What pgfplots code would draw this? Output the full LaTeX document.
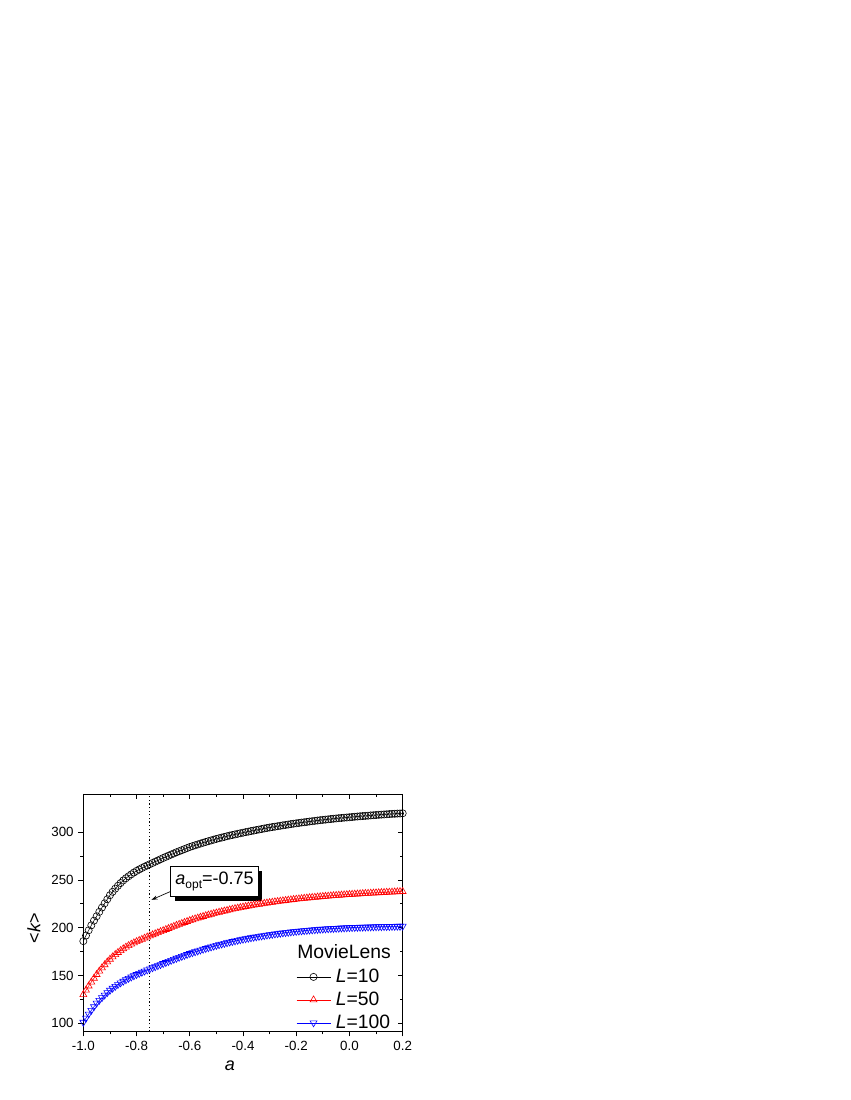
\documentclass[border=0pt]{standalone}
\usepackage{fontspec}
\setmainfont{Liberation Sans}
\usepackage{pgfplots}
\usepackage{pgfplotstable}
\pgfplotsset{compat=1.18}
\usetikzlibrary{arrows.meta,shadows}

\pgfplotstableread{
a k10 k50 k100
-1.00 186 130 101
-0.99 191.8 134.6 105.4
-0.98 197.3 139 109.6
-0.97 202.5 143.1 113.5
-0.96 207.4 147.1 117.3
-0.95 212 151 121
-0.94 216.6 154.6 124
-0.93 221.1 158 126.8
-0.92 225.5 161.2 129.5
-0.91 229.8 164.2 132.1
-0.90 234 167 134.5
-0.89 237.6 169.5 136.6
-0.88 240.9 171.9 138.6
-0.87 243.9 174.1 140.5
-0.86 246.8 176.1 142.3
-0.85 249.5 178 144
-0.84 251.8 179.7 145.5
-0.83 253.9 181.3 147
-0.82 255.9 182.8 148.4
-0.81 257.8 184.2 149.7
-0.80 259.5 185.5 151
-0.79 261 186.7 152.2
-0.78 262.5 187.9 153.4
-0.77 263.9 189.1 154.6
-0.76 265.2 190.3 155.8
-0.75 266.5 191.5 157
-0.74 267.8 192.6 158.1
-0.73 269.1 193.7 159.2
-0.72 270.4 194.8 160.3
-0.71 271.7 195.9 161.4
-0.70 273 197 162.5
-0.69 274.2 198.1 163.6
-0.68 275.4 199.2 164.7
-0.67 276.6 200.3 165.8
-0.66 277.8 201.4 166.9
-0.65 279 202.5 168
-0.64 280.1 203.5 169
-0.63 281.2 204.5 170
-0.62 282.3 205.5 171
-0.61 283.4 206.5 172
-0.60 284.5 207.5 173
-0.59 285.4 208.4 173.9
-0.58 286.3 209.3 174.8
-0.57 287.2 210.1 175.7
-0.56 288.1 211 176.6
-0.55 289 211.8 177.5
-0.54 289.8 212.6 178.3
-0.53 290.6 213.3 179.1
-0.52 291.4 214.1 179.9
-0.51 292.2 214.8 180.7
-0.50 293 215.5 181.5
-0.49 293.7 216.2 182.2
-0.48 294.4 216.8 182.9
-0.47 295.1 217.5 183.6
-0.46 295.8 218.1 184.3
-0.45 296.5 218.8 185
-0.44 297.1 219.4 185.6
-0.43 297.7 220 186.2
-0.42 298.3 220.5 186.8
-0.41 298.9 221.1 187.4
-0.40 299.5 221.7 188
-0.39 300.1 222.2 188.5
-0.38 300.6 222.7 189
-0.37 301.2 223.2 189.5
-0.36 301.7 223.7 190
-0.35 302.3 224.2 190.5
-0.34 302.8 224.6 191
-0.33 303.3 225 191.4
-0.32 303.9 225.5 191.8
-0.31 304.4 225.9 192.3
-0.30 304.9 226.3 192.7
-0.29 305.4 226.7 193.1
-0.28 305.8 227.1 193.5
-0.27 306.3 227.4 193.8
-0.26 306.7 227.8 194.2
-0.25 307.2 228.2 194.6
-0.24 307.6 228.5 194.9
-0.23 308 228.9 195.2
-0.22 308.5 229.2 195.6
-0.21 308.9 229.6 195.9
-0.20 309.3 229.9 196.2
-0.19 309.7 230.2 196.5
-0.18 310.1 230.5 196.7
-0.17 310.4 230.8 197
-0.16 310.8 231.1 197.2
-0.15 311.2 231.4 197.5
-0.14 311.5 231.7 197.7
-0.13 311.9 231.9 197.9
-0.12 312.2 232.2 198.2
-0.11 312.6 232.4 198.4
-0.10 312.9 232.7 198.6
-0.09 313.2 232.9 198.8
-0.08 313.5 233.1 198.9
-0.07 313.8 233.4 199.1
-0.06 314.1 233.6 199.2
-0.05 314.4 233.8 199.4
-0.04 314.7 234 199.5
-0.03 314.9 234.2 199.7
-0.02 315.2 234.4 199.8
-0.01 315.4 234.6 200
0.00 315.7 234.8 200.1
0.01 315.9 235 200.2
0.02 316.2 235.2 200.3
0.03 316.4 235.3 200.4
0.04 316.7 235.5 200.5
0.05 316.9 235.7 200.6
0.06 317.1 235.9 200.7
0.07 317.3 236 200.8
0.08 317.6 236.2 200.8
0.09 317.8 236.3 200.9
0.10 318 236.5 201
0.11 318.2 236.6 201.1
0.12 318.4 236.8 201.1
0.13 318.6 236.9 201.2
0.14 318.8 237.1 201.2
0.15 319 237.2 201.3
0.16 319.2 237.3 201.4
0.17 319.3 237.5 201.4
0.18 319.5 237.6 201.5
0.19 319.6 237.8 201.5
0.20 319.8 237.9 201.6
}\datatable

\begin{document}
\begin{tikzpicture}
\path[use as bounding box] (0,0) rectangle (637.5pt,825pt);
\pgfplotsset{
  common/.style={
    at={(62.5pt,51.4pt)}, anchor=south west,
    scale only axis, width=239.5pt, height=178.1pt,
    xmin=-1, xmax=0.2, ymin=91.4, ymax=340,
    xtick={-1,-0.8,-0.6,-0.4,-0.2,0,0.2},
    ytick={100,150,200,250,300},
    minor x tick num=1, minor y tick num=1,
    major tick length=3.75pt, minor tick length=2.25pt,
    axis line style={line width=0.6pt},
    every tick/.style={black, line width=0.6pt},
  }
}
\begin{axis}[common, tick pos=right, tick align=inside,
  xticklabels={}, yticklabels={}]
\end{axis}
\begin{axis}[common, tick pos=left, tick align=outside,
  tick label style={font=\fontsize{10}{12}\selectfont},
  /pgf/number format/assume math mode=true,
  xticklabel style={/pgf/number format/.cd, fixed, fixed zerofill, precision=1},
  yticklabel style={/pgf/number format/.cd, fixed, precision=0},
  xlabel={\textit{a}},
  ylabel={<\textit{k}>},
  every axis x label/.style={at={(axis description cs:0.459,-0.145)}, anchor=center,
    font=\fontsize{13.5}{15}\selectfont},
  every axis y label/.style={at={(axis description cs:-0.155,0.436)}, anchor=center, rotate=90,
    font=\fontsize{13.5}{15}\selectfont},
  legend style={draw=none, fill=none, at={(axis description cs:0.666,0.268)}, anchor=north west,
    font=\fontsize{14.5}{16}\selectfont, inner xsep=0pt, inner ysep=0pt, row sep=4pt,
    column sep=3pt, nodes={inner sep=0.8pt}},
  legend cell align=left,
  legend image code/.code={\draw[mark repeat=2,mark phase=2] plot coordinates {(0pt,0pt) (12.75pt,0pt) (25.5pt,0pt)};},
]
\addplot[black, line width=0.4pt, mark=o, mark size=2.7pt, mark options={line width=0.45pt}] table[x=a,y=k10] {\datatable};
\addlegendentry{\textit{L}=10}
\addplot[red, line width=0.4pt, mark=triangle, mark size=3pt, mark options={line width=0.45pt}] table[x=a,y=k50] {\datatable};
\addlegendentry{\textit{L}=50}
\addplot[blue, line width=0.4pt, mark=triangle, mark size=3pt, mark options={line width=0.45pt, rotate=180}] table[x=a,y=k100] {\datatable};
\addlegendentry{\textit{L}=100}
\addplot[black, line width=0.9pt, dash pattern=on 0.9pt off 1.8pt, forget plot] coordinates {(-0.75,91.4) (-0.75,340)};
\draw[-{Stealth[length=4.5pt,width=3pt]}, line width=0.5pt] (axis cs:-0.672,238) -- (axis cs:-0.744,229.2);
\node[draw, fill=white, line width=0.6pt, minimum width=65.7pt, minimum height=22.5pt, inner sep=0pt,
  drop shadow={shadow xshift=3pt, shadow yshift=-3pt, opacity=1, fill=black},
  font=\fontsize{13.5}{15}\selectfont] at (axis cs:-0.507,248.3)
  {\textit{a}\raisebox{-3.5pt}{\fontsize{9}{10}\selectfont opt}=-0.75};
\node[anchor=west, inner sep=0pt, font=\fontsize{14.5}{16}\selectfont] at (axis cs:-0.197,175) {MovieLens};
\end{axis}
\end{tikzpicture}
\end{document}
